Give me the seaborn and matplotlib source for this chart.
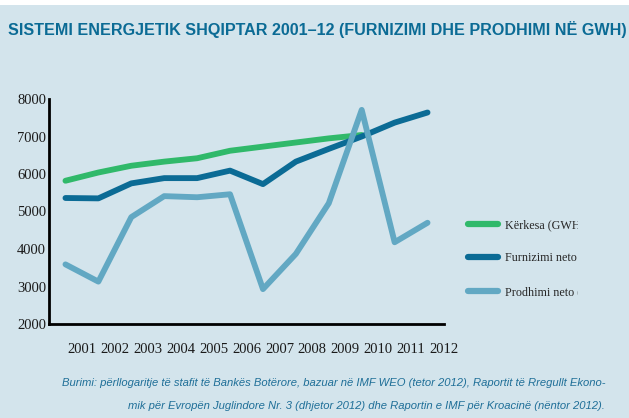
import matplotlib
matplotlib.use("Agg")
import matplotlib.pyplot as plt
import pandas as pd
import seaborn as sns
from matplotlib.patches import Rectangle

years = list(range(2001, 2013))
kerkesa = [5820, 6040, 6220, 6330, 6420, 6620, 6730, 6840, 6950, 7040]
furnizimi = [5360, 5350, 5750, 5890, 5890, 6090, 5730, 6330, 6670, 7000, 7370, 7640]
prodhimi = [3590, 3130, 4850, 5410, 5380, 5460, 2930, 3870, 5220, 7710, 4180, 4700]
series_names = ['Kërkesa (GWH)', 'Furnizimi neto (GWH)', 'Prodhimi neto (GWH)']
colors = ['#30b96a', '#0b6b95', '#62a8c3']
y_ticks = [2000, 3000, 4000, 5000, 6000, 7000, 8000]

BG = '#d3e4ec'
TITLE_C = '#0b6b95'


def main():
    df = pd.concat([
        pd.DataFrame({'year': years[:len(kerkesa)], 'value': kerkesa, 'series': series_names[0]}),
        pd.DataFrame({'year': years, 'value': furnizimi, 'series': series_names[1]}),
        pd.DataFrame({'year': years, 'value': prodhimi, 'series': series_names[2]}),
    ])

    sns.set_style('white')
    plt.rcParams['font.family'] = ['Liberation Serif', 'DejaVu Serif']

    fig = plt.figure(figsize=(6.29, 4.18), dpi=100, facecolor=BG)
    fig.patches.append(Rectangle((0, 1 - 5 / 418), 1, 5 / 418, transform=fig.transFigure,
                                 facecolor='white', edgecolor='none', zorder=0))
    ax = fig.add_axes([49 / 629, 1 - 324 / 418, (444 - 49) / 629, (324 - 99) / 418])
    ax.set_facecolor(BG)

    sns.lineplot(data=df, x='year', y='value', hue='series', hue_order=series_names,
                 palette=colors, linewidth=4.2, ax=ax, legend=True)

    ax.set_xlim(2000.5, 2012.5)
    ax.set_ylim(2000, 8000)
    ax.set_yticks(y_ticks)
    ax.set_yticklabels([str(v) for v in y_ticks], fontsize=10.5)
    ax.set_xticks([y + 0.5 for y in years])
    ax.set_xticklabels([str(y) for y in years], fontsize=10.5)
    ax.tick_params(axis='both', length=0, colors='#1a1a1a')
    ax.tick_params(axis='x', pad=14)
    ax.tick_params(axis='y', pad=2)
    ax.set_xlabel('')
    ax.set_ylabel('')
    for s in ['top', 'right']:
        ax.spines[s].set_visible(False)
    for s in ['left', 'bottom']:
        ax.spines[s].set_color('black')
        ax.spines[s].set_linewidth(2)

    leg = ax.legend(loc='upper left', bbox_to_anchor=(457 / 629, 1 - 208 / 418),
                    bbox_transform=fig.transFigure, frameon=False, fontsize=8.7,
                    handlelength=2.5, handletextpad=0.6, labelspacing=1.8)
    clip = Rectangle((0, 0), 578 / 629, 1, transform=fig.transFigure)
    for t in leg.get_texts():
        t.set_clip_path(clip)
    for h in leg.get_lines():
        h.set_linewidth(4.5)

    fig.text(8 / 629, 1 - 30 / 418,
             'SISTEMI ENERGJETIK SHQIPTAR 2001–12 (FURNIZIMI DHE PRODHIMI NË GWH)',
             color=TITLE_C, fontsize=11.6, fontweight='bold', va='center', ha='left',
             family=['Liberation Sans', 'DejaVu Sans'])
    fig.text(605 / 629, 1 - 383 / 418,
             'Burimi: përllogaritje të stafit të Bankës Botërore, bazuar në IMF WEO (tetor 2012), '
             'Raportit të Rregullt Ekono-',
             color='#1f6f98', fontsize=8.1, style='italic', va='center', ha='right',
             family=['Liberation Sans', 'DejaVu Sans'])
    fig.text(605 / 629, 1 - 406 / 418,
             'mik për Evropën Juglindore Nr. 3 (dhjetor 2012) dhe Raportin e IMF për Kroacinë (nëntor 2012).',
             color='#1f6f98', fontsize=8.1, style='italic', va='center', ha='right',
             family=['Liberation Sans', 'DejaVu Sans'])

    plt.savefig('out.png', dpi=100, facecolor=BG)
    plt.close(fig)


if __name__ == '__main__':
    main()
